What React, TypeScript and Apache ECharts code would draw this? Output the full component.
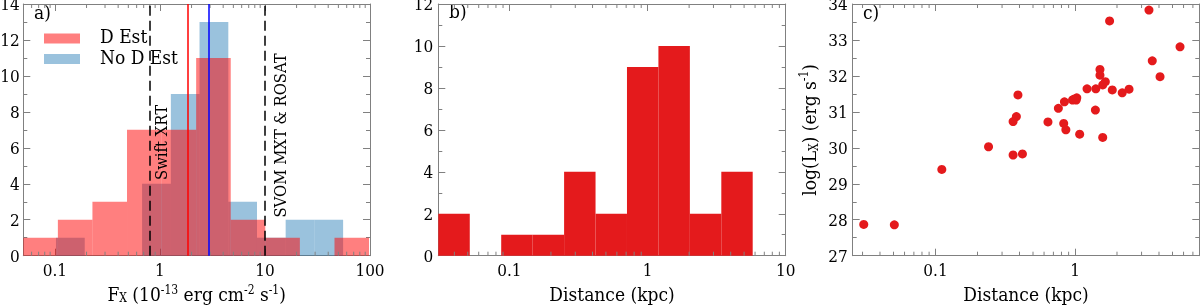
import React, { useEffect, useRef } from 'react';
import * as echarts from 'echarts';

// ---------- Panel a: X-ray flux histograms ----------
const redEdges = [0.05, 0.1067, 0.2276, 0.4857, 1.036, 2.212, 4.72, 10.07, 21.49, 45.9, 97.9];
const redCounts = [1, 2, 3, 7, 7, 11, 2, 1, 0, 1];
const blueEdges = [0.1023, 0.1923, 0.3606, 0.6761, 1.27, 2.382, 4.477, 8.395, 15.74, 29.58, 55.46];
const blueCounts = [1, 0, 0, 4, 9, 13, 3, 1, 2, 2];
const medianRed = 1.82;
const medianBlue = 2.94;
const swiftLimit = 0.8;
const svomLimit = 10;
const annotX = [1.04, 14.2];
const annotY = [6.3, 6.69];
const annotText = ['Swift XRT', 'SVOM MXT & ROSAT'];
const legendNames = ['D Est', 'No D Est'];

// ---------- Panel b: distance histogram ----------
const distEdges = [0.0306, 0.0517, 0.0873, 0.1474, 0.249, 0.4205, 0.71, 1.199, 2.025, 3.42, 5.77];
const distCounts = [2, 0, 1, 1, 4, 2, 9, 10, 2, 4];

// ---------- Panel c: log Lx vs distance ----------
const distances = [3.39, 1.77, 5.66, 3.58, 4.07, 1.51, 1.51, 1.65, 1.58, 1.85, 1.22, 1.41, 2.18, 2.44, 1.03, 1.02, 0.96, 0.84, 0.76, 1.4, 0.64, 0.83, 0.86, 1.08, 1.58, 0.39, 0.38, 0.36, 0.24, 0.36, 0.42, 0.111, 0.0306, 0.0507, 0.99];
const logLx = [33.83, 33.53, 32.81, 32.42, 31.98, 32.18, 32.02, 31.84, 31.75, 31.61, 31.64, 31.64, 31.53, 31.63, 31.39, 31.33, 31.33, 31.28, 31.1, 31.05, 30.72, 30.68, 30.5, 30.38, 30.29, 31.47, 30.87, 30.73, 30.03, 29.8, 29.83, 29.4, 27.87, 27.86, 31.36];

// axis ranges
const aX = [0.05, 100];
const aY = [0, 14];
const bX = [0.0306, 10];
const bY = [0, 12];
const cX = [0.0255, 7.78];
const cY = [27, 34];

const FONT = '"DejaVu Serif Condensed", "DejaVu Serif"';
const SPINE = '#808080';
const RED_A = 'rgba(255,0,0,0.5)';
const BLUE_A = 'rgba(31,119,180,0.45)';
const RED = '#e41a1c';
const TICK_FS = 17;
const NAME_FS = 19;

const grids = [
  { left: 23.3, top: 4, width: 346.7, height: 251.7, outerBoundsMode: 'none', containLabel: false },
  { left: 438.3, top: 4, width: 347.4, height: 251.7, outerBoundsMode: 'none', containLabel: false },
  { left: 852.7, top: 4, width: 346.6, height: 251.7, outerBoundsMode: 'none', containLabel: false },
];

function fmtLog(v: number) {
  const l = Math.log10(v);
  const r = Math.round(l);
  if (Math.abs(l - r) > 1e-6) return '';
  return r < 0 ? v.toFixed(-r) : String(Math.round(v));
}

function minorValues(range: number[]) {
  const out: number[][] = [];
  for (let e = -3; e <= 3; e++) {
    for (let m = 2; m <= 9; m++) {
      const v = m * Math.pow(10, e);
      if (v > range[0] * 1.001 && v < range[1] * 0.999) out.push([v]);
    }
  }
  return out;
}

const richName = {
  sup: { fontSize: 12, lineHeight: 10, verticalAlign: 'top', fontFamily: FONT, color: '#000' },
  sub: { fontSize: 12, lineHeight: 10, verticalAlign: 'bottom', fontFamily: FONT, color: '#000' },
};

function logX(gridIndex: number, range: number[], position: string, labels: boolean, name?: any, nameGap?: number) {
  return {
    type: 'log', logBase: 10, gridIndex, min: range[0], max: range[1], position,
    axisLine: { show: true, onZero: false, lineStyle: { color: SPINE, width: 1 } },
    axisTick: { show: true, inside: true, length: 7, lineStyle: { color: SPINE } },
    axisLabel: { show: labels, margin: 6, color: '#000', fontSize: TICK_FS, fontFamily: FONT, formatter: fmtLog },
    splitLine: { show: false },
    name: name || '',
    nameLocation: 'middle',
    nameGap: nameGap || 28,
    nameTextStyle: { color: '#000', fontSize: NAME_FS, fontFamily: FONT, lineHeight: 20, rich: richName },
  };
}

function valY(gridIndex: number, range: number[], interval: number, position: string, labels: boolean, name?: any, margin?: number) {
  return {
    type: 'value', gridIndex, min: range[0], max: range[1], interval, position,
    axisLine: { show: true, onZero: false, lineStyle: { color: SPINE, width: 1 } },
    axisTick: { show: true, inside: true, length: 7, lineStyle: { color: SPINE } },
    minorTick: { show: true, splitNumber: 2, length: 4, lineStyle: { color: SPINE } },
    axisLabel: { show: labels, margin: margin == null ? 5 : margin, color: '#000', fontSize: TICK_FS, fontFamily: FONT },
    splitLine: { show: false },
    name: name || '',
    nameLocation: 'middle',
    nameGap: 33,
    nameTextStyle: { color: '#000', fontSize: NAME_FS, fontFamily: FONT, lineHeight: 22, rich: richName },
  };
}

function histData(edges: number[], counts: number[]) {
  const d: number[][] = [];
  counts.forEach((c, i) => { if (c > 0) d.push([edges[i], edges[i + 1], c]); });
  return d;
}

function histSeries(name: string, xi: number, edges: number[], counts: number[], fill: string, extra?: any) {
  return {
    type: 'custom', name, xAxisIndex: xi, yAxisIndex: xi,
    data: histData(edges, counts),
    encode: { x: [0, 1], y: 2 },
    itemStyle: { color: fill },
    renderItem: (params: any, api: any) => {
      const p0 = api.coord([api.value(0), 0]);
      const p1 = api.coord([api.value(1), api.value(2)]);
      return {
        type: 'rect',
        shape: { x: p0[0], y: p1[1], width: p1[0] - p0[0], height: p0[1] - p1[1] },
        style: { fill },
      };
    },
    ...(extra || {}),
  };
}

function minorTickSeries(xi: number, xr: number[], yr: number[]) {
  return {
    type: 'custom', xAxisIndex: xi, yAxisIndex: xi, silent: true,
    data: minorValues(xr).map((v) => [v[0], yr[0]]),
    encode: { x: 0, y: 1 },
    renderItem: (params: any, api: any) => {
      const v = api.value(0);
      const b = api.coord([v, yr[0]]);
      const t = api.coord([v, yr[1]]);
      return {
        type: 'group',
        children: [
          { type: 'line', shape: { x1: b[0], y1: b[1], x2: b[0], y2: b[1] - 4 }, style: { stroke: SPINE, lineWidth: 1 } },
          { type: 'line', shape: { x1: t[0], y1: t[1], x2: t[0], y2: t[1] + 4 }, style: { stroke: SPINE, lineWidth: 1 } },
        ],
      };
    },
  };
}

const option: any = {
  animation: false,
  textStyle: { fontFamily: FONT },
  grid: grids,
  xAxis: [
    logX(0, aX, 'bottom', true, 'F{sub|X} (10{sup|-13} erg cm{sup|-2} s{sup|-1})', 26),
    logX(0, aX, 'top', false),
    logX(1, bX, 'bottom', true, 'Distance (kpc)', 28),
    logX(1, bX, 'top', false),
    logX(2, cX, 'bottom', true, 'Distance (kpc)', 28),
    logX(2, cX, 'top', false),
  ],
  yAxis: [
    valY(0, aY, 2, 'left', true, '', 3.5),
    valY(0, aY, 2, 'right', false),
    valY(1, bY, 2, 'left', true),
    valY(1, bY, 2, 'right', false),
    valY(2, cY, 1, 'left', true, 'log(L{sub|X}) (erg s{sup|-1})'),
    valY(2, cY, 1, 'right', false),
  ],
  series: [
    histSeries(legendNames[1], 0, blueEdges, blueCounts, BLUE_A),
    histSeries(legendNames[0], 0, redEdges, redCounts, RED_A, {
      markLine: {
        silent: true, symbol: ['none', 'none'], label: { show: false }, animation: false,
        data: [
          { xAxis: swiftLimit, lineStyle: { color: '#000', type: [10, 5], width: 1.5 } },
          { xAxis: svomLimit, lineStyle: { color: '#000', type: [10, 5], width: 1.5 } },
          { xAxis: medianRed, lineStyle: { color: '#ff0000', type: 'solid', width: 1.5 } },
          { xAxis: medianBlue, lineStyle: { color: '#0000ff', type: 'solid', width: 1.5 } },
        ],
      },
    }),
    {
      type: 'custom', xAxisIndex: 0, yAxisIndex: 0, silent: true,
      data: annotX.map((x, i) => [x, annotY[i]]),
      encode: { x: 0, y: 1 },
      renderItem: (params: any, api: any) => {
        const p = api.coord([api.value(0), api.value(1)]);
        return {
          type: 'text', x: p[0], y: p[1], rotation: Math.PI / 2,
          style: { text: annotText[params.dataIndex], fill: '#000', fontSize: 16.5, fontFamily: FONT, align: 'center', verticalAlign: 'middle' },
        };
      },
    },
    minorTickSeries(0, aX, aY),
    histSeries('dist', 2, distEdges, distCounts, RED),
    minorTickSeries(2, bX, bY),
    {
      type: 'scatter', xAxisIndex: 4, yAxisIndex: 4,
      data: distances.map((d, i) => [d, logLx[i]]),
      symbolSize: 9,
      itemStyle: { color: RED, opacity: 1 },
    },
    minorTickSeries(4, cX, cY),
  ],
  graphic: [
    { type: 'text', left: 34, top: 2, style: { text: 'a)', fontSize: NAME_FS, fontFamily: FONT, fill: '#000' } },
    { type: 'text', left: 449, top: 1, style: { text: 'b)', fontSize: NAME_FS, fontFamily: FONT, fill: '#000' } },
    { type: 'text', left: 863, top: 2, style: { text: 'c)', fontSize: NAME_FS, fontFamily: FONT, fill: '#000' } },
    { type: 'rect', shape: { x: 44, y: 33.5, width: 36, height: 10 }, style: { fill: RED_A } },
    { type: 'rect', shape: { x: 44, y: 54, width: 36, height: 10 }, style: { fill: BLUE_A } },
    { type: 'text', x: 100, y: 35.5, style: { text: legendNames[0], fontSize: NAME_FS, fontFamily: FONT, fill: '#000', verticalAlign: 'middle' } },
    { type: 'text', x: 100, y: 56.5, style: { text: legendNames[1], fontSize: NAME_FS, fontFamily: FONT, fill: '#000', verticalAlign: 'middle' } },
  ],
};

export default function App() {
  const ref = useRef<HTMLDivElement>(null);
  useEffect(() => {
    const chart = echarts.init(ref.current!, null, { renderer: 'svg' });
    chart.setOption(option);
    return () => chart.dispose();
  }, []);
  return <div ref={ref} style={{ position: 'fixed', left: 0, top: 0, width: 1200, height: 305 }} />;
}
